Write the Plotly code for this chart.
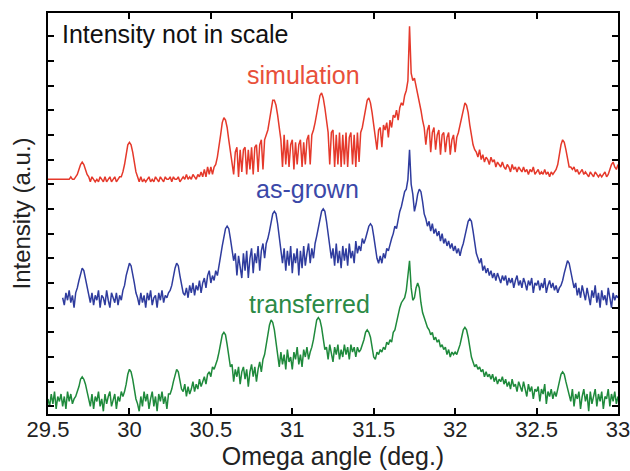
import plotly.graph_objects as go

# Omega scan grid (deg), step 0.01
omega = [round(29.5 + 0.01 * i, 2) for i in range(351)]

# simulation (red), values, i = 0..350
simulation = [
    92, 92, 92, 92, 92, 92, 92, 92, 92, 92,
    92, 92, 92, 92, 93, 92, 92, 93, 94, 96,
    98, 99, 98, 96, 94, 93, 91, 93, 92, 91,
    92, 91, 93, 92, 91, 93, 91, 92, 93, 91,
    92, 93, 91, 92, 93, 93, 95, 98, 102, 106,
    107, 106, 103, 99, 95, 93, 91, 93, 91, 92,
    91, 92, 93, 91, 92, 91, 93, 92, 91, 93,
    92, 91, 93, 92, 92, 93, 91, 93, 92, 92,
    93, 91, 92, 93, 92, 94, 92, 93, 92, 94,
    93, 92, 94, 93, 95, 93, 96, 93, 97, 94,
    97, 94, 97, 98, 101, 105, 110, 115, 117, 116,
    113, 108, 103, 100, 94, 103, 105, 93, 104, 95,
    104, 105, 94, 104, 96, 105, 94, 105, 106, 95,
    106, 108, 96, 108, 110, 112, 116, 121, 124, 124,
    122, 118, 113, 108, 97, 110, 98, 108, 97, 106,
    108, 96, 107, 98, 106, 108, 97, 107, 98, 108,
    110, 98, 110, 112, 115, 119, 123, 126, 127, 125,
    121, 116, 111, 98, 111, 112, 97, 110, 98, 111,
    97, 110, 98, 111, 97, 109, 111, 98, 110, 97,
    111, 99, 111, 113, 117, 121, 124, 125, 123, 119,
    114, 110, 104, 112, 113, 105, 114, 112, 115, 109,
    116, 113, 118, 117, 120, 116, 121, 123, 122, 126,
    128, 132, 154, 135, 132, 133, 130, 127, 124, 120,
    116, 113, 106, 112, 114, 103, 111, 113, 104, 110,
    112, 102, 110, 111, 103, 109, 111, 102, 108, 110,
    103, 109, 111, 114, 118, 121, 123, 122, 119, 114,
    110, 106, 104, 103, 101, 104, 100, 102, 99, 101,
    100, 98, 101, 99, 100, 97, 99, 98, 97, 99,
    97, 96, 98, 97, 95, 98, 96, 97, 95, 97,
    96, 95, 97, 95, 96, 94, 96, 95, 97, 94,
    95, 96, 94, 95, 94, 96, 94, 95, 93, 95,
    94, 95, 96, 98, 102, 106, 108, 107, 104, 100,
    97, 97, 96, 97, 95, 96, 94, 95, 96, 94,
    95, 94, 93, 95, 94, 93, 95, 94, 93, 94,
    93, 94, 95, 93, 94, 96, 98, 99, 97, 96,
    98,
]

# as-grown (blue), starts at i = 9
as_grown_start = 9
as_grown = [
    44, 41, 46, 43, 47, 42, 45, 40, 46, 48, 51,
    54, 56, 55, 52, 48, 45, 42, 46, 41, 45,
    43, 47, 40, 45, 44, 41, 47, 43, 40, 46,
    44, 42, 46, 41, 45, 43, 47, 49, 53, 56,
    58, 57, 54, 50, 46, 44, 41, 46, 42, 45,
    40, 46, 43, 47, 41, 44, 45, 40, 46, 43,
    47, 42, 45, 44, 46, 47, 49, 53, 56, 58,
    57, 53, 49, 46, 45, 48, 44, 49, 46, 50,
    45, 49, 47, 51, 46, 50, 52, 48, 53, 55,
    50, 53, 51, 55, 53, 58, 61, 65, 69, 72,
    73, 72, 68, 63, 59, 62, 53, 61, 57, 52,
    62, 55, 63, 52, 60, 64, 54, 62, 58, 65,
    55, 63, 66, 60, 66, 68, 71, 75, 78, 79,
    78, 74, 69, 64, 58, 64, 55, 63, 57, 65,
    54, 62, 58, 64, 53, 63, 56, 65, 57, 62,
    66, 58, 64, 60, 66, 69, 72, 76, 79, 80,
    79, 75, 70, 65, 60, 64, 57, 66, 58, 63,
    56, 65, 59, 64, 57, 66, 60, 63, 58, 67,
    62, 65, 63, 68, 66, 68, 71, 73, 74, 73,
    69, 64, 60, 58, 61, 58, 62, 60, 64, 63,
    66, 68, 70, 73, 72, 76, 79, 81, 84, 87,
    88, 92, 104, 90, 86, 79, 82, 86, 88, 87,
    83, 78, 76, 73, 75, 71, 74, 70, 72, 69,
    71, 67, 70, 66, 68, 65, 67, 64, 66, 63,
    65, 62, 64, 61, 64, 66, 69, 72, 75, 76,
    75, 71, 66, 62, 60, 58, 60, 55, 57, 54,
    56, 53, 55, 52, 54, 51, 54, 52, 50, 53,
    51, 53, 49, 52, 50, 52, 48, 51, 53, 49,
    51, 48, 52, 50, 47, 51, 49, 52, 46, 50,
    49, 51, 47, 50, 48, 52, 46, 49, 51, 48,
    50, 47, 49, 46, 48, 49, 51, 54, 57, 59,
    58, 55, 51, 48, 50, 45, 48, 44, 49, 46,
    43, 48, 45, 41, 47, 44, 49, 42, 46, 40,
    47, 43, 45, 41, 48, 44, 40, 46, 43, 45,
    44,
]

# transferred (green), i = 0..350
transferred = [
    3, 0, 5, 1, 6, -1, 4, 2, 5, 0,
    4, -1, 6, 2, 5, 1, 3, 4, 6, 8,
    11, 12, 11, 9, 6, 3, 0, 5, -1, 4,
    2, 6, 0, 3, -2, 5, 1, 4, 6, 0,
    3, 5, -1, 4, 2, 6, 4, 6, 9, 13,
    15, 14, 11, 7, 3, 1, -2, 4, 0, 6,
    2, 5, -1, 3, 6, 0, 4, -2, 5, 2,
    6, 1, 4, -1, 5, 5, 7, 10, 13, 15,
    14, 11, 7, 6, 9, 4, 8, 5, 7, 10,
    6, 9, 7, 11, 8, 10, 12, 9, 13, 14,
    12, 16, 15, 17, 19, 22, 26, 29, 30, 29,
    25, 20, 16, 17, 10, 15, 12, 16, 9, 14,
    16, 11, 15, 8, 14, 17, 12, 16, 10, 15,
    18, 14, 19, 21, 25, 29, 33, 35, 34, 31,
    26, 21, 16, 22, 17, 21, 15, 23, 18, 20,
    15, 22, 19, 24, 17, 21, 16, 23, 20, 24,
    19, 22, 24, 27, 31, 35, 36, 35, 32, 27,
    23, 24, 19, 25, 22, 18, 24, 21, 25, 19,
    23, 20, 25, 21, 24, 19, 25, 22, 24, 20,
    24, 22, 23, 25, 27, 30, 31, 30, 28, 24,
    20, 19, 22, 21, 23, 22, 24, 23, 26, 25,
    27, 26, 30, 31, 34, 38, 40, 42, 43, 44,
    47, 52, 59, 48, 43, 44, 48, 50, 48, 42,
    38, 36, 34, 32, 31, 29, 30, 27, 28, 26,
    27, 24, 25, 23, 24, 21, 23, 20, 22, 21,
    22, 21, 23, 25, 28, 31, 32, 31, 28, 24,
    20, 18, 16, 17, 15, 16, 14, 15, 12, 14,
    12, 13, 11, 13, 10, 12, 9, 11, 10, 12,
    9, 11, 8, 10, 7, 11, 8, 9, 6, 10,
    8, 6, 10, 7, 4, 9, 6, 8, 3, 7,
    6, 8, 2, 7, 5, 9, 1, 6, 4, 7,
    3, 6, 4, 7, 10, 13, 14, 13, 10, 7,
    4, 2, 7, 0, 5, 3, 6, -1, 4, 7,
    2, 5, -2, 6, 1, 4, 7, 0, 5, 2,
    6, -1, 4, 3, 7, 0, 5, 2, 6, 1,
    4,
]

assert len(simulation) == 351, len(simulation)
assert len(as_grown) == 351 - as_grown_start, len(as_grown)
assert len(transferred) == 351, len(transferred)

x_ticks = [29.5, 30, 30.5, 31, 31.5, 32, 32.5, 33]
x_ticklabels = ["29.5", "30", "30.5", "31", "31.5", "32", "32.5", "33"]

RED = "#e5392b"
BLUE = "#2f3c9e"
GREEN = "#1f8a3c"
FONT = "Liberation Sans, Arial, sans-serif"
LW = 1.5

fig = go.Figure()
fig.add_trace(go.Scatter(x=omega, y=simulation, mode="lines",
                         line=dict(color=RED, width=LW), showlegend=False))
fig.add_trace(go.Scatter(x=omega[as_grown_start:], y=as_grown, mode="lines",
                         line=dict(color=BLUE, width=LW), showlegend=False))
fig.add_trace(go.Scatter(x=omega, y=transferred, mode="lines",
                         line=dict(color=GREEN, width=LW), showlegend=False))

ann_font = 25
fig.add_annotation(x=29.572, y=150.8, text="Intensity not in scale", showarrow=False,
                   xanchor="left", yanchor="middle",
                   font=dict(family=FONT, size=ann_font, color="#111"))
fig.add_annotation(x=31.068, y=134.1, text="simulation", showarrow=False,
                   font=dict(family=FONT, size=ann_font, color="#e8503a"))
fig.add_annotation(x=31.093, y=88.2, text="as-grown", showarrow=False,
                   font=dict(family=FONT, size=ann_font, color="#3b48a8"))
fig.add_annotation(x=31.105, y=41.6, text="transferred", showarrow=False,
                   font=dict(family=FONT, size=ann_font, color="#2b8a46"))

fig.update_layout(
    width=630, height=471,
    margin=dict(l=48, r=12, t=13, b=57),
    paper_bgcolor="white", plot_bgcolor="white",
    font=dict(family=FONT, color="#222"),
    xaxis=dict(range=[29.5, 33.0], tickvals=x_ticks, ticktext=x_ticklabels,
               automargin=False, ticklabeloverflow="allow", ticklabelstandoff=-5,
               ticks="inside", ticklen=6, tickwidth=2, tickcolor="black",
               showline=True, linewidth=2, linecolor="black", mirror="ticks",
               showgrid=False, zeroline=False,
               tickfont=dict(size=22, color="#222"),
               title=dict(text="Omega angle (deg.)", font=dict(size=25, color="#222"),
                          standoff=4)),
    yaxis=dict(range=[-3.1, 159.4], tick0=0, dtick=10,
               automargin=False,
               ticks="inside", ticklen=6, tickwidth=2, tickcolor="black",
               showline=True, linewidth=2, linecolor="black", mirror="ticks",
               showgrid=False, zeroline=False, showticklabels=False,
               title=dict(text="Intensity (a.u.)", font=dict(size=24, color="#222"),
                          standoff=9)),
)

fig.write_html("out.html")
